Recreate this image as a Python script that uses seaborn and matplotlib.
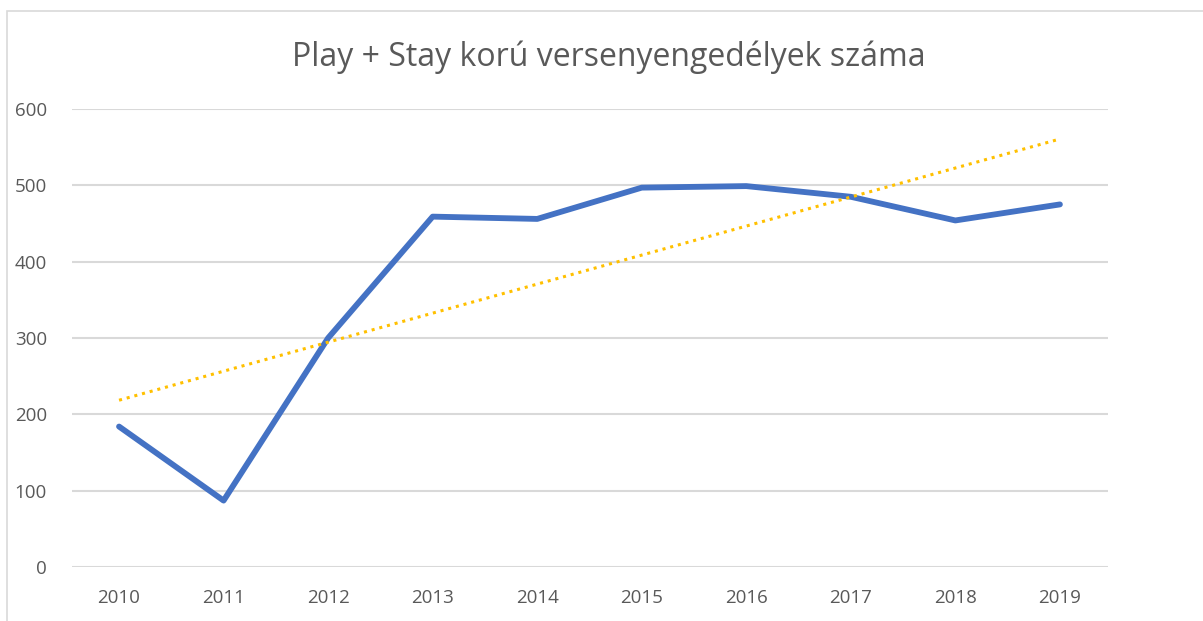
import matplotlib

matplotlib.use("Agg")

import matplotlib.pyplot as plt
import numpy as np
import pandas as pd
import seaborn as sns
from matplotlib.patches import Rectangle

years = ["2010", "2011", "2012", "2013", "2014", "2015", "2016", "2017", "2018", "2019"]
licences = [184, 87, 300, 459, 456, 497, 499, 485, 454, 475]
y_ticks = [0, 100, 200, 300, 400, 500, 600]
title = "Play + Stay korú versenyengedélyek száma"

sns.set_style("white")
plt.rcParams["font.family"] = ["Open Sans", "DejaVu Sans"]

TEXT = "#595959"
GRID = "#D9D9D9"

df = pd.DataFrame({"year": years, "value": licences})
df["pos"] = np.arange(len(years))

# linear trendline like Excel's
slope, intercept = np.polyfit(df["pos"], df["value"], 1)
df["trend"] = intercept + slope * df["pos"]

fig = plt.figure(figsize=(12.03, 6.21), dpi=100)
ax = fig.add_axes([72 / 1203, 1 - 567 / 621, (1108 - 72) / 1203, (567 - 109) / 621])

# outer chart border
fig.patches.append(
    Rectangle((7 / 1203, -0.1), 1.2, 1 - 11 / 621 + 0.1, transform=fig.transFigure,
              fill=False, edgecolor=GRID, linewidth=1.2)
)

for t in y_ticks:
    ax.axhline(t, color=GRID, linewidth=1.5, zorder=0)

sns.lineplot(data=df, x="pos", y="value", color="#4472C4", linewidth=4.2, ax=ax, zorder=3)
sns.lineplot(data=df, x="pos", y="trend", color="#FFC000", linewidth=2.2, ax=ax,
             linestyle=(0, (1, 1.6)), zorder=4)

ax.set_xlim(-0.45, 9.46)
ax.set_ylim(0, 600)
ax.set_xticks(df["pos"])
ax.set_xticklabels(years)
ax.set_yticks(y_ticks)
ax.tick_params(axis="both", length=0, labelsize=13.5, labelcolor=TEXT)
ax.tick_params(axis="x", pad=16)
ax.tick_params(axis="y", pad=18)
ax.set_xlabel("")
ax.set_ylabel("")
for s in ax.spines.values():
    s.set_visible(False)

fig.text(0.506, 1 - 57 / 621, title, ha="center", va="center", fontsize=23, color=TEXT)

plt.savefig("out.png", dpi=100)
plt.close()
